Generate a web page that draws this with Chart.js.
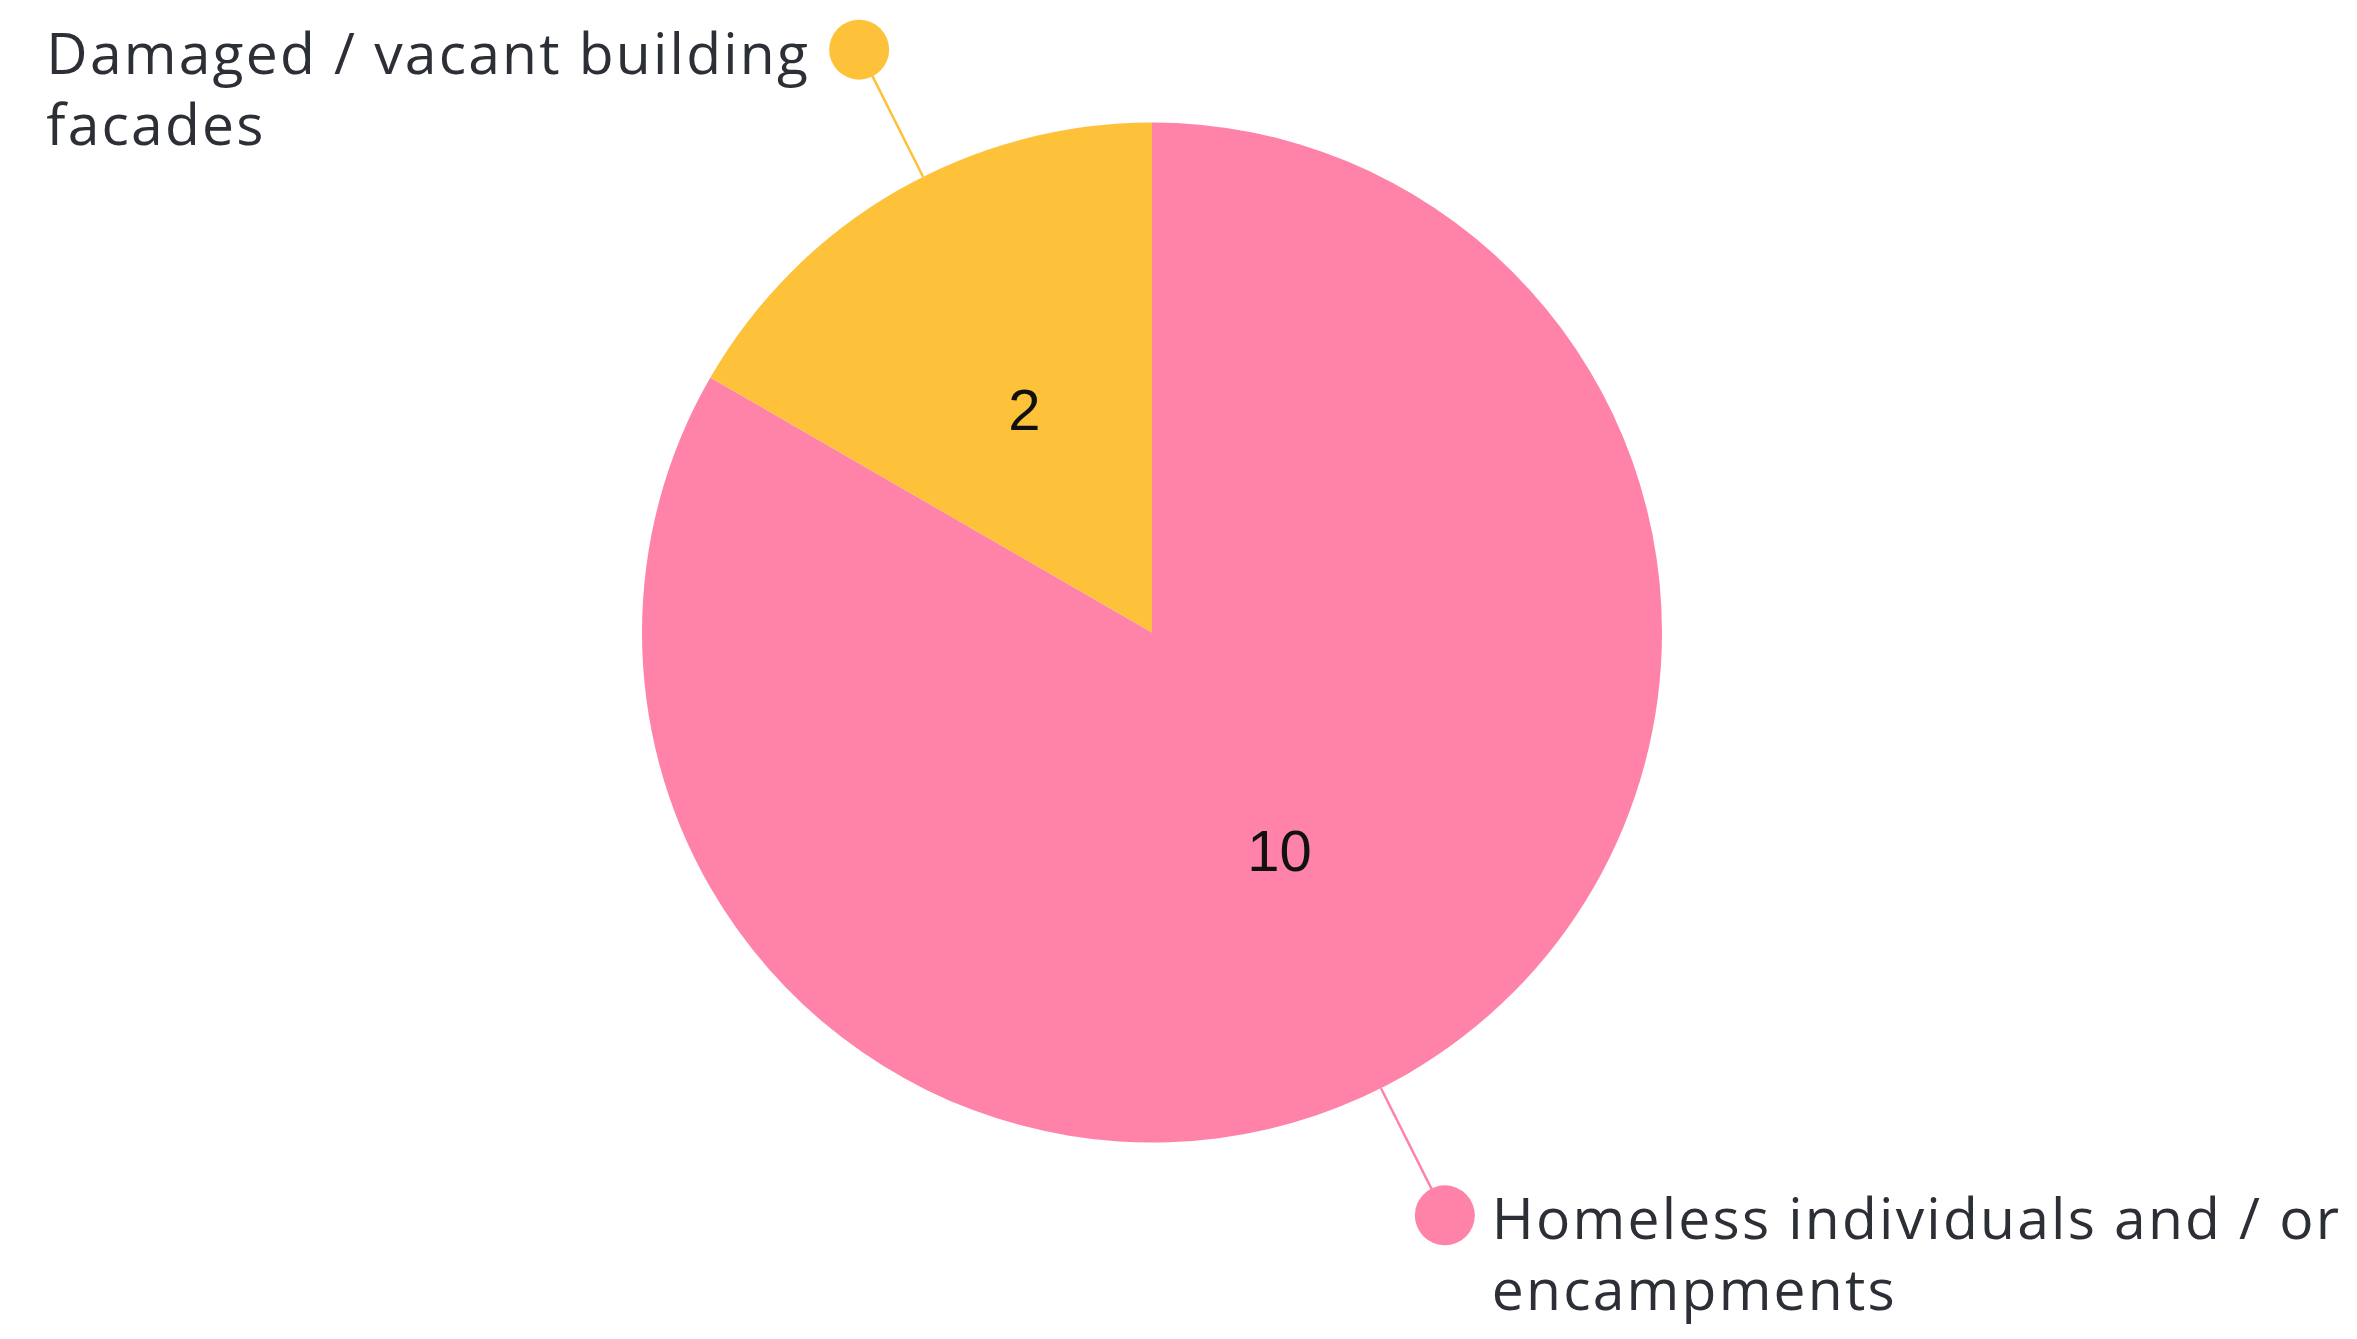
<!DOCTYPE html>
<html>
<head>
<meta charset="utf-8">
<script src="https://cdn.jsdelivr.net/npm/chart.js@4.4.1/dist/chart.umd.min.js"></script>
<style>
  html, body { margin: 0; padding: 0; background: #fff; }
  #wrap { position: relative; width: 2357px; height: 1339px; }
</style>
</head>
<body>
<div id="wrap"><canvas id="issuesPie"></canvas></div>
<script>
// category names, one entry per line of the drawn label
const categories = [
  ["Homeless individuals and / or", "encampments"],
  ["Damaged / vacant building", "facades"]
];
const counts = [10, 2];
const sliceColors = ["#FF83A9", "#FDC23A"];

const TEXT_COLOR = "#2c2f36";
const LABEL_FONT = "57px 'Open Sans'";

// value inside each slice + leader line, dot and wrapped name outside
const calloutPlugin = {
  id: "callouts",
  afterDatasetsDraw(chart) {
    const ctx = chart.ctx;
    const meta = chart.getDatasetMeta(0);
    ctx.save();
    meta.data.forEach((arc, i) => {
      const { x, y, startAngle, endAngle, outerRadius } = arc.getProps(
        ["x", "y", "startAngle", "endAngle", "outerRadius"], true);
      const mid = (startAngle + endAngle) / 2;

      // number in the middle of the slice
      ctx.fillStyle = "#111";
      ctx.font = "58px 'Liberation Sans'";
      ctx.textAlign = "center";
      ctx.textBaseline = "middle";
      ctx.fillText(String(counts[i]),
        x + Math.cos(mid) * outerRadius * 0.5,
        y + Math.sin(mid) * outerRadius * 0.5 + 2);

      // leader from the rim to the dot
      const a = mid + 0.058;
      const ex = x + Math.cos(a) * outerRadius;
      const ey = y + Math.sin(a) * outerRadius;
      const dx = x + Math.cos(a) * outerRadius * 1.279;
      const dy = y + Math.sin(a) * outerRadius * 1.279;
      ctx.strokeStyle = sliceColors[i];
      ctx.lineWidth = 2.5;
      ctx.beginPath();
      ctx.moveTo(ex, ey);
      ctx.lineTo(dx, dy);
      ctx.stroke();

      const dotR = 30;
      ctx.fillStyle = sliceColors[i];
      ctx.beginPath();
      ctx.arc(dx, dy, dotR, 0, Math.PI * 2);
      ctx.fill();

      // name, left aligned, beside the dot
      const lines = categories[i];
      ctx.font = LABEL_FONT;
      ctx.letterSpacing = "2.2px";
      ctx.fillStyle = TEXT_COLOR;
      ctx.textAlign = "left";
      ctx.textBaseline = "alphabetic";
      const onRight = Math.cos(a) >= 0;
      const tx = onRight ? dx + dotR + 17 : dx - dotR - 19 - ctx.measureText(lines[0]).width;
      lines.forEach((line, k) => {
        ctx.fillText(line, tx, dy + 24 + k * 71);
      });
      ctx.letterSpacing = "0px";
    });
    ctx.restore();
  }
};

new Chart(document.getElementById("issuesPie"), {
  type: "pie",
  data: {
    labels: categories,
    datasets: [{
      data: counts,
      backgroundColor: sliceColors,
      borderWidth: 0,
      hoverOffset: 0
    }]
  },
  options: {
    responsive: true,
    maintainAspectRatio: false,
    animation: false,
    layout: { padding: { left: 642, right: 695, top: 122, bottom: 196 } },
    plugins: {
      legend: { display: false },
      tooltip: { enabled: false }
    }
  },
  plugins: [calloutPlugin]
});
</script>
</body>
</html>
